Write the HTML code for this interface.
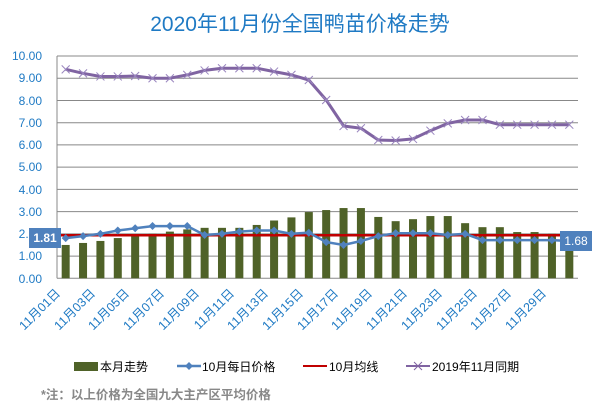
<!DOCTYPE html>
<html><head><meta charset="utf-8"><style>
body{margin:0;background:#fff;width:600px;height:414px;overflow:hidden}
svg{display:block;font-family:"Liberation Sans","Noto Sans CJK SC",sans-serif}
</style></head><body>
<svg id="s" width="600" height="414" viewBox="0 0 600 414">
<text x="300" y="31" text-anchor="middle" font-size="21" fill="#1f7ac4">2020年11月份全国鸭苗价格走势</text>
<g id="grid" stroke="#888" stroke-width="1"></g>
<g font-size="12" fill="#1f7ac4" text-anchor="end">
<text x="42" y="60">10.00</text><text x="42" y="82">9.00</text><text x="42" y="105">8.00</text><text x="42" y="127">7.00</text><text x="42" y="149">6.00</text><text x="42" y="171">5.00</text><text x="42" y="194">4.00</text><text x="42" y="216">3.00</text><text x="42" y="238">2.00</text><text x="42" y="260">1.00</text><text x="42" y="283">0.00</text>
</g>
<g id="bars" fill="#4f6228"></g>
<line x1="57" y1="235.3" x2="578" y2="235.3" stroke="#c00000" stroke-width="2.5"/>
<g id="lines"></g>
<rect x="29" y="228" width="32" height="20" fill="#4f81bd"/>
<text x="45" y="242" text-anchor="middle" font-size="12" font-weight="bold" fill="#fff">1.81</text>
<rect x="560" y="231" width="32" height="20" fill="#4f81bd"/>
<text x="576" y="245" text-anchor="middle" font-size="12" fill="#fff">1.68</text>
<g id="xl" font-size="12.5" fill="#1f7ac4" text-anchor="end">
<text transform="translate(61,294) rotate(-45)">11月01日</text>
<text transform="translate(96,294) rotate(-45)">11月03日</text>
<text transform="translate(130,294) rotate(-45)">11月05日</text>
<text transform="translate(165,294) rotate(-45)">11月07日</text>
<text transform="translate(200,294) rotate(-45)">11月09日</text>
<text transform="translate(235,294) rotate(-45)">11月11日</text>
<text transform="translate(269,294) rotate(-45)">11月13日</text>
<text transform="translate(304,294) rotate(-45)">11月15日</text>
<text transform="translate(339,294) rotate(-45)">11月17日</text>
<text transform="translate(373,294) rotate(-45)">11月19日</text>
<text transform="translate(408,294) rotate(-45)">11月21日</text>
<text transform="translate(443,294) rotate(-45)">11月23日</text>
<text transform="translate(478,294) rotate(-45)">11月25日</text>
<text transform="translate(512,294) rotate(-45)">11月27日</text>
<text transform="translate(547,294) rotate(-45)">11月29日</text>
</g>
<g font-size="12" fill="#000">
<rect x="74" y="362" width="24" height="9" fill="#4f6228"/><text x="100" y="371">本月走势</text>
<line x1="177" y1="366" x2="201" y2="366" stroke="#4f81bd" stroke-width="2.5"/><path d="M189 362l4 4-4 4-4-4z" fill="#4f81bd"/><text x="202" y="371">10月每日价格</text>
<line x1="303" y1="366" x2="327" y2="366" stroke="#c00000" stroke-width="2"/><text x="329" y="371">10月均线</text>
<line x1="406" y1="366" x2="430" y2="366" stroke="#8064a2" stroke-width="2"/><path d="M414 362l8 8M422 362l-8 8" stroke="#8064a2"/><text x="432" y="371">2019年11月同期</text>
</g>
<text x="41" y="399" font-size="12.5" font-weight="bold" fill="#888">*注：以上价格为全国九大主产区平均价格</text>
</svg>
<script>
var NS="http://www.w3.org/2000/svg";
function el(p,t,a){var e=document.createElementNS(NS,t);for(var k in a)e.setAttribute(k,a[k]);document.getElementById(p).appendChild(e);return e;}
var L=57,R=578,Y0=278.3,U=22.23,W=(R-L)/30;
function y(v){return Y0-v*U;}function x(i){return L+W*(i+0.5);}
for(var v=0;v<=10;v++)el("grid","line",{x1:L,x2:R,y1:y(v),y2:y(v)});
el("grid","line",{x1:L,x2:L,y1:y(10),y2:Y0});
var bars=[1.5,1.59,1.68,1.81,1.9,2.0,2.1,2.2,2.27,2.27,2.27,2.4,2.6,2.74,2.98,3.07,3.16,3.16,2.76,2.57,2.66,2.8,2.8,2.48,2.3,2.3,2.08,2.08,2.0,1.68];
bars.forEach(function(b,i){el("bars","rect",{x:x(i)-4,y:y(b),width:8,height:b*U});});
var blue=[1.81,1.9,2.0,2.15,2.25,2.35,2.35,2.35,1.95,2.0,2.1,2.15,2.15,2.0,2.05,1.63,1.5,1.68,1.9,2.03,2.03,2.03,1.95,2.0,1.72,1.72,1.72,1.72,1.72,1.68];
var pur=[9.4,9.22,9.08,9.08,9.1,9.0,9.0,9.15,9.35,9.45,9.45,9.45,9.3,9.15,8.92,8.02,6.85,6.75,6.22,6.2,6.27,6.64,6.97,7.12,7.12,6.91,6.91,6.91,6.91,6.91];
function pts(a){return a.map(function(v,i){return x(i).toFixed(1)+","+y(v).toFixed(1);}).join(" ");}
el("lines","polyline",{points:pts(blue),fill:"none",stroke:"#4f81bd","stroke-width":2.5});
blue.forEach(function(v,i){el("lines","path",{d:"M"+x(i)+" "+(y(v)-4)+"l4 4-4 4-4-4z",fill:"#4f81bd"});});
el("lines","polyline",{points:pts(pur),fill:"none",stroke:"#8064a2","stroke-width":3,"stroke-linejoin":"round"});
pur.forEach(function(v,i){var X=x(i),Yv=y(v);el("lines","path",{d:"M"+(X-4)+" "+(Yv-4)+"l8 8M"+(X+4)+" "+(Yv-4)+"l-8 8",stroke:"#9a86bf","stroke-width":1});});
</script>
</body></html>
